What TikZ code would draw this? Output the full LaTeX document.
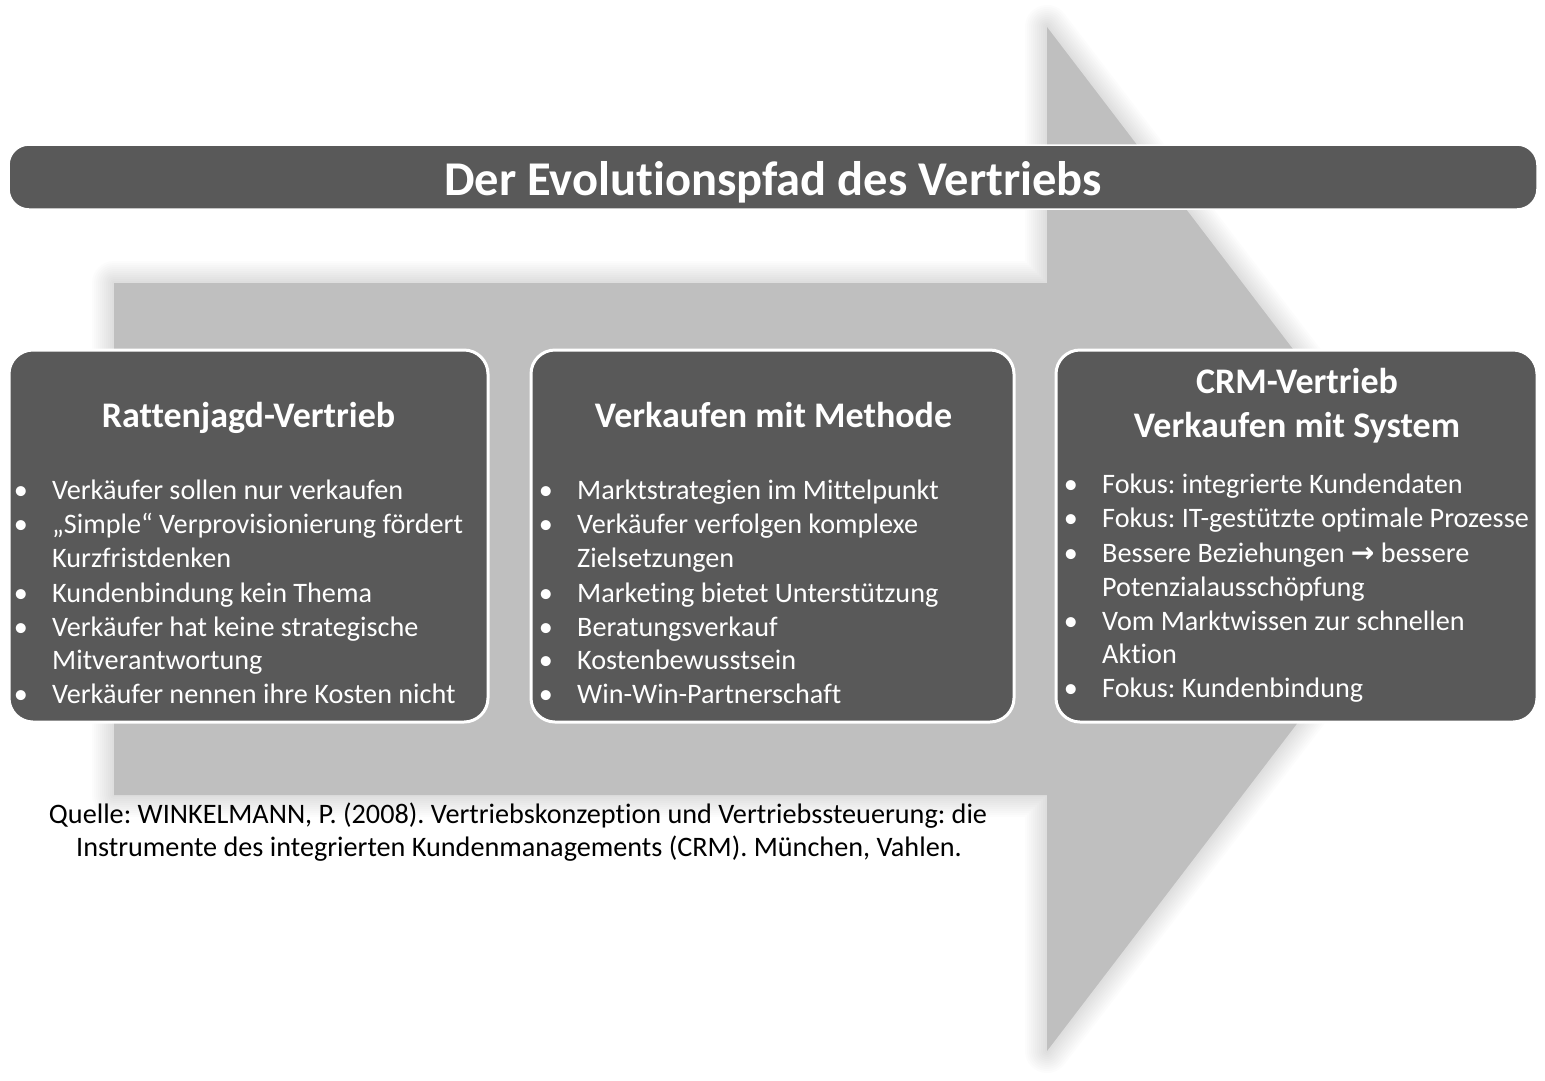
\documentclass[tikz,border=0pt]{standalone}
\usepackage{fontspec}
\setmainfont{Carlito}[Ligatures=CommonOff]
\newfontfamily\symfont{DejaVu Sans}
\usetikzlibrary{positioning}
\frenchspacing

\definecolor{panelgrey}{HTML}{595959}
\definecolor{arrowgrey}{HTML}{BFBFBF}

\begin{document}
\begin{tikzpicture}[
        x=1pt, y=-1pt,
        panel/.style={draw=white, line width=3pt, fill=panelgrey, rounded corners=24pt},
        titletext/.style={text=white, inner sep=0pt, anchor=base,
                          font=\fontsize{48.5}{56}\selectfont\bfseries},
        headline/.style={text=white, inner sep=0pt, anchor=base,
                         font=\fontsize{36}{44}\selectfont\bfseries},
        item/.style={text=white, inner sep=0pt, anchor=base west,
                     font=\fontsize{28.2}{34}\selectfont},
        dot/.style={text=white, inner sep=0pt, anchor=base,
                    font=\fontsize{28.2}{34}\selectfont},
        source/.style={text=black, inner sep=0pt, anchor=base,
                       font=\fontsize{28.2}{33}\selectfont},
    ]
        \useasboundingbox (0,0) rectangle (1545,1080);
        % big arrow in the back, with a soft glow
        \coordinate (s1) at (114,283);  \coordinate (s2) at (1047,283);
        \coordinate (h1) at (1047,27);  \coordinate (tip) at (1438,539);
        \coordinate (h2) at (1047,1051); \coordinate (s3) at (1047,795);
        \coordinate (s4) at (114,795);
        \foreach \w in {4,8,...,44}
            \draw[line width=\w pt, black, opacity=0.012, line join=round]
                (s1) -- (s2) -- (h1) -- (tip) -- (h2) -- (s3) -- (s4) -- cycle;
        \fill[arrowgrey] (s1) -- (s2) -- (h1) -- (tip) -- (h2) -- (s3) -- (s4) -- cycle;

        % title bar
        \node[panel, line width=1.5pt, rounded corners=20pt,
              minimum width=1528pt, minimum height=64pt] (bar) at (773,177) {};
        \node[titletext] (title) at (773,195) {Der Evolutionspfad des Vertriebs};

        % the three stages
        \node[panel, minimum width=479pt, minimum height=372pt] (rat) at (248.5,536) {};
        \node[panel, minimum width=483pt, minimum height=372pt] (met) at (772.5,536) {};
        \node[panel, minimum width=481pt, minimum height=372pt] (crm) at (1296.5,536) {};

        \node[headline] (rathead) at (248.5,427) {Rattenjagd-Vertrieb};
        \node[headline] (methead) at (773.5,427) {Verkaufen mit Methode};
        \node[headline] (crmhead1) at (1297,393) {CRM-Vertrieb};
        \node[headline] (crmhead2) at (1297,437) {Verkaufen mit System};

        \foreach \y/\txt in {499/{Verkäufer sollen nur verkaufen},
                             533/{„Simple“ Verprovisionierung fördert},
                             602/{Kundenbindung kein Thema},
                             636/{Verkäufer hat keine strategische},
                             703/{Verkäufer nennen ihre Kosten nicht}} {
            \node[dot] (ratdot\y) at (21,\y) {•};
            \node[item] (rat\y) at (52,\y) {\txt};
        }
        \foreach \y/\txt in {567/Kurzfristdenken, 669/Mitverantwortung}
            \node[item] (rat\y) at (52,\y) {\txt};

        \foreach \y/\txt in {499/{Marktstrategien im Mittelpunkt},
                             533/{Verkäufer verfolgen komplexe},
                             602/{Marketing bietet Unterstützung},
                             636/{Beratungsverkauf},
                             669/{Kostenbewusstsein},
                             703/{Win-Win-Partnerschaft}} {
            \node[dot] (metdot\y) at (546,\y) {•};
            \node[item] (met\y) at (577,\y) {\txt};
        }
        \node[item] (met567) at (577,567) {Zielsetzungen};

        \foreach \y/\txt in {493/{Fokus: integrierte Kundendaten},
                             527/{Fokus: IT-gestützte optimale Prozesse},
                             562/{Bessere Beziehungen {\symfont\bfseries →} bessere},
                             630/{Vom Marktwissen zur schnellen},
                             697/{Fokus: Kundenbindung}} {
            \node[dot] (crmdot\y) at (1071,\y) {•};
            \node[item] (crm\y) at (1102,\y) {\txt};
        }
        \foreach \y/\txt in {596/Potenzialausschöpfung, 663/Aktion}
            \node[item] (crm\y) at (1102,\y) {\txt};

        % reference below the arrow
        \node[source] (src1) at (518,823)
            {Quelle: WINKELMANN, P. (2008). Vertriebskonzeption und Vertriebssteuerung: die};
        \node[source] (src2) at (519,856)
            {Instrumente des integrierten Kundenmanagements (CRM). München, Vahlen.};
    \end{tikzpicture}
\end{document}
